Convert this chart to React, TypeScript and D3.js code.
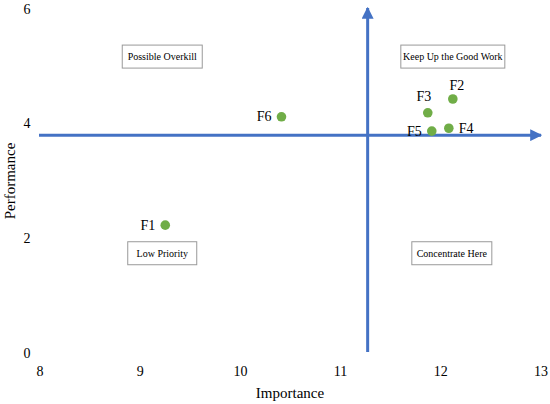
import { useMemo } from 'react';
import * as d3 from 'd3';

// Importance–performance points
const labels = ['F1', 'F2', 'F3', 'F4', 'F5', 'F6'];
const importance = [9.25, 12.12, 11.87, 12.08, 11.91, 10.41];
const performance = [2.23, 4.43, 4.19, 3.92, 3.87, 4.12];
// where each label sits relative to its point
const labelSide = ['left', 'topright', 'topleft', 'right', 'left', 'left'];

// Quadrant crossing (means)
const meanImportance = 11.27;
const meanPerformance = 3.8;

const quadrantNames = ['Possible Overkill', 'Keep Up the Good Work', 'Low Priority', 'Concentrate Here'];
const quadrantX = [9.22, 12.12, 9.22, 12.11];
const quadrantY = [5.17, 5.17, 1.74, 1.74];
const quadrantW = [80, 104, 69, 80];

const xTicks = [8, 9, 10, 11, 12, 13];
const yTicks = [0, 2, 4, 6];

const W = 550;
const H = 404;
const BLUE = '#4472C4';
const GREEN = '#70AD47';
const FONT = '"Liberation Serif", "Times New Roman", serif';

export default function App() {
  const { x, y } = useMemo(() => {
    const x = d3.scaleLinear().domain([8, 13]).range([40, 541]);
    const y = d3.scaleLinear().domain([0, 6]).range([353, 9]);
    return { x, y };
  }, []);

  const hy = y(meanPerformance);
  const vx = x(meanImportance);

  return (
    <div style={{ position: 'absolute', left: 0, top: 0 }}>
      <svg width={W} height={H} style={{ display: 'block', background: '#fff' }}>
        <defs>
          <marker id="arrow" viewBox="0 0 10 10" refX="9" refY="5" markerWidth="4" markerHeight="4" orient="auto" markerUnits="strokeWidth">
            <path d="M0,0 L10,5 L0,10 z" fill={BLUE} />
          </marker>
        </defs>

        {/* Y tick labels */}
        {yTicks.map((v) => (
          <text key={v} x={27} y={y(v)} textAnchor="middle" dominantBaseline="central" fontSize={14} fontFamily={FONT} fill="#000">
            {v}
          </text>
        ))}

        {/* X tick labels */}
        {xTicks.map((v) => (
          <text key={v} x={x(v)} y={371} textAnchor="middle" dominantBaseline="central" fontSize={14} fontFamily={FONT} fill="#000">
            {v}
          </text>
        ))}

        {/* Axis titles */}
        <text x={290} y={393} textAnchor="middle" dominantBaseline="central" fontSize={15} fontFamily={FONT}>
          Importance
        </text>
        <text
          transform={`translate(10,181) rotate(-90)`}
          textAnchor="middle"
          dominantBaseline="central"
          fontSize={15}
          fontFamily={FONT}
        >
          Performance
        </text>

        {/* Quadrant lines with arrows */}
        <line x1={x(8) - 1} y1={hy} x2={x(13)} y2={hy} stroke={BLUE} strokeWidth={3} markerEnd="url(#arrow)" />
        <line x1={vx} y1={y(0) - 1} x2={vx} y2={y(6) - 1} stroke={BLUE} strokeWidth={3} markerEnd="url(#arrow)" />

        {/* Quadrant boxes */}
        {quadrantNames.map((name, i) => {
          const cx = x(quadrantX[i]);
          const cy = y(quadrantY[i]);
          const w = quadrantW[i];
          return (
            <g key={name}>
              <rect x={cx - w / 2} y={cy - 11.5} width={w} height={23} fill="#fff" stroke="#999" strokeWidth={1} />
              <text x={cx} y={cy} textAnchor="middle" dominantBaseline="central" fontSize={10} fontFamily={FONT}>
                {name}
              </text>
            </g>
          );
        })}

        {/* Points */}
        {labels.map((lab, i) => {
          const px = x(importance[i]);
          const py = y(performance[i]);
          const side = labelSide[i];
          let lx = px;
          let ly = py;
          let anchor: 'start' | 'middle' | 'end' = 'middle';
          if (side === 'left') {
            lx = px - 10;
            anchor = 'end';
          } else if (side === 'right') {
            lx = px + 10;
            anchor = 'start';
          } else if (side === 'topright') {
            lx = px + 4;
            ly = py - 14;
          } else if (side === 'topleft') {
            lx = px - 4;
            ly = py - 16;
          }
          return (
            <g key={lab}>
              <circle cx={px} cy={py} r={4.8} fill={GREEN} />
              <text x={lx} y={ly} textAnchor={anchor} dominantBaseline="central" fontSize={14} fontFamily={FONT}>
                {lab}
              </text>
            </g>
          );
        })}
      </svg>
    </div>
  );
}
